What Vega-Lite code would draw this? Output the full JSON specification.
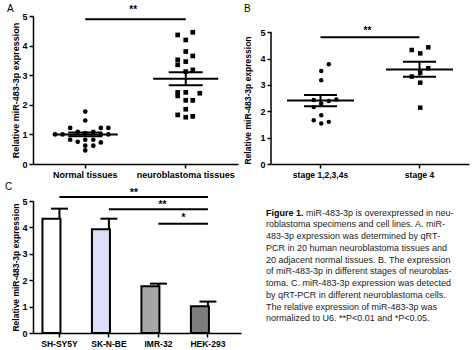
{
  "$schema": "https://vega.github.io/schema/vega-lite/v6.json",
  "autosize": {"type": "none"},
  "padding": {"left": 33, "top": 16, "right": 441, "bottom": 334},
  "bounds": "flush",
  "columns": 2,
  "spacing": {"row": 37, "column": 30},
  "config": {
    "view": {"stroke": null},
    "font": "Liberation Sans",
    "axis": {
      "domainColor": "black", "domainWidth": 1.5, "tickColor": "black", "tickWidth": 1.5, "tickSize": 4,
      "labelColor": "black", "labelFont": "Liberation Sans", "labelFontWeight": "bold", "labelFontSize": 9,
      "titleColor": "black", "titleFont": "Liberation Sans", "titleFontWeight": "bold", "titleFontSize": 9,
      "grid": false, "labelFlush": false, "labelOverlap": false
    },
    "title": {"font": "Liberation Sans", "fontSize": 10, "fontWeight": "normal", "anchor": "start", "frame": "group", "color": "black"}
  },
  "concat": [
    {
      "width": 205, "height": 148,
      "title": {"text": "A", "dx": -26, "offset": -9},
      "layer": [
        {
          "data": {"values": [
            {"group": "Normal tissues", "offset": 0, "value": 1.77},
            {"group": "Normal tissues", "offset": 0, "value": 1.47},
            {"group": "Normal tissues", "offset": -0.15, "value": 1.22},
            {"group": "Normal tissues", "offset": 0.155, "value": 1.22},
            {"group": "Normal tissues", "offset": 0.23, "value": 1.22},
            {"group": "Normal tissues", "offset": -0.3, "value": 1.0},
            {"group": "Normal tissues", "offset": -0.225, "value": 1.0},
            {"group": "Normal tissues", "offset": -0.075, "value": 1.09},
            {"group": "Normal tissues", "offset": 0, "value": 1.04},
            {"group": "Normal tissues", "offset": 0.08, "value": 1.09},
            {"group": "Normal tissues", "offset": 0.155, "value": 1.0},
            {"group": "Normal tissues", "offset": 0.23, "value": 1.0},
            {"group": "Normal tissues", "offset": -0.15, "value": 0.82},
            {"group": "Normal tissues", "offset": -0.075, "value": 0.75},
            {"group": "Normal tissues", "offset": 0, "value": 0.82},
            {"group": "Normal tissues", "offset": 0.08, "value": 0.82},
            {"group": "Normal tissues", "offset": 0.155, "value": 0.73},
            {"group": "Normal tissues", "offset": 0, "value": 0.62},
            {"group": "Normal tissues", "offset": 0.08, "value": 0.62},
            {"group": "Normal tissues", "offset": 0, "value": 0.46},
            {"group": "neuroblastoma tissues", "offset": -0.08, "value": 4.36},
            {"group": "neuroblastoma tissues", "offset": 0, "value": 4.19},
            {"group": "neuroblastoma tissues", "offset": 0.07, "value": 4.45},
            {"group": "neuroblastoma tissues", "offset": 0, "value": 3.8},
            {"group": "neuroblastoma tissues", "offset": 0.07, "value": 3.65},
            {"group": "neuroblastoma tissues", "offset": -0.08, "value": 3.52},
            {"group": "neuroblastoma tissues", "offset": 0, "value": 3.46},
            {"group": "neuroblastoma tissues", "offset": -0.08, "value": 3.35},
            {"group": "neuroblastoma tissues", "offset": 0.07, "value": 3.18},
            {"group": "neuroblastoma tissues", "offset": 0, "value": 3.12},
            {"group": "neuroblastoma tissues", "offset": -0.08, "value": 2.42},
            {"group": "neuroblastoma tissues", "offset": 0, "value": 2.42},
            {"group": "neuroblastoma tissues", "offset": 0.14, "value": 2.39},
            {"group": "neuroblastoma tissues", "offset": -0.08, "value": 2.3},
            {"group": "neuroblastoma tissues", "offset": 0, "value": 2.15},
            {"group": "neuroblastoma tissues", "offset": 0.07, "value": 2.15},
            {"group": "neuroblastoma tissues", "offset": 0, "value": 1.85},
            {"group": "neuroblastoma tissues", "offset": -0.08, "value": 1.66},
            {"group": "neuroblastoma tissues", "offset": 0, "value": 1.58},
            {"group": "neuroblastoma tissues", "offset": 0.07, "value": 1.61}
          ]},
          "mark": {"type": "point", "filled": true, "opacity": 1, "color": "black", "size": 22},
          "encoding": {
            "x": {"field": "group", "type": "nominal", "scale": {"type": "band", "domain": ["Normal tissues", "neuroblastoma tissues"], "paddingInner": 0, "paddingOuter": 0.02}, "axis": {"title": null, "labelAngle": 0, "labelPadding": 2}},
            "xOffset": {"field": "offset", "type": "quantitative", "scale": {"domain": [-0.5, 0.5]}},
            "y": {"field": "value", "type": "quantitative", "scale": {"domain": [0, 5], "nice": false}, "axis": {"title": "Relative miR-483-3p expression", "values": [0, 1, 2, 3, 4, 5], "tickCount": 6, "labelOverlap": false, "titlePadding": 1, "labelPadding": 2}},
            "shape": {"field": "group", "type": "nominal", "scale": {"domain": ["Normal tissues", "neuroblastoma tissues"], "range": ["circle", "square"]}, "legend": null}
          }
        },
        {
          "data": {"values": [
            {"group": "Normal tissues", "mean": 1.0, "lo": 0.94, "hi": 1.06},
            {"group": "neuroblastoma tissues", "mean": 2.88, "lo": 2.66, "hi": 3.1}
          ]},
          "layer": [
            {"mark": {"type": "tick", "orient": "horizontal", "size": 65, "thickness": 2, "color": "black", "opacity": 1},
             "encoding": {"x": {"field": "group", "type": "nominal"}, "y": {"field": "mean", "type": "quantitative"}}},
            {"mark": {"type": "tick", "orient": "horizontal", "size": 34, "thickness": 2, "color": "black", "opacity": 1},
             "encoding": {"x": {"field": "group", "type": "nominal"}, "y": {"field": "hi", "type": "quantitative"}}},
            {"mark": {"type": "tick", "orient": "horizontal", "size": 34, "thickness": 2, "color": "black", "opacity": 1},
             "encoding": {"x": {"field": "group", "type": "nominal"}, "y": {"field": "lo", "type": "quantitative"}}},
            {"mark": {"type": "rule", "strokeWidth": 2, "color": "black"},
             "encoding": {"x": {"field": "group", "type": "nominal"}, "y": {"field": "lo", "type": "quantitative"}, "y2": {"field": "hi"}}}
          ]
        },
        {
          "data": {"values": [{"from": "Normal tissues", "to": "neuroblastoma tissues", "y": 4.89, "ty": 5.1, "label": "**"}]},
          "layer": [
            {"mark": {"type": "rule", "strokeWidth": 2, "color": "black"},
             "encoding": {"x": {"field": "from", "type": "nominal"}, "x2": {"field": "to"}, "y": {"field": "y", "type": "quantitative"}}},
            {"mark": {"type": "text", "fontSize": 10, "fontWeight": "bold", "baseline": "alphabetic", "dx": 48, "color": "black"},
             "encoding": {"x": {"field": "from", "type": "nominal"}, "y": {"field": "ty", "type": "quantitative"}, "text": {"field": "label"}}}
          ]
        }
      ]
    },
    {
      "width": 198, "height": 148,
      "title": {"text": "B", "dx": -27, "offset": 2},
      "layer": [
        {
          "data": {"values": [
            {"group": "stage 1,2,3,4s", "offset": 0.075, "value": 3.79},
            {"group": "stage 1,2,3,4s", "offset": 0, "value": 3.53},
            {"group": "stage 1,2,3,4s", "offset": 0, "value": 3.18},
            {"group": "stage 1,2,3,4s", "offset": -0.075, "value": 2.43},
            {"group": "stage 1,2,3,4s", "offset": 0.075, "value": 2.39},
            {"group": "stage 1,2,3,4s", "offset": 0.15, "value": 2.45},
            {"group": "stage 1,2,3,4s", "offset": 0, "value": 2.29},
            {"group": "stage 1,2,3,4s", "offset": -0.075, "value": 2.16},
            {"group": "stage 1,2,3,4s", "offset": 0, "value": 1.85},
            {"group": "stage 1,2,3,4s", "offset": -0.075, "value": 1.66},
            {"group": "stage 1,2,3,4s", "offset": 0, "value": 1.54},
            {"group": "stage 1,2,3,4s", "offset": 0.075, "value": 1.6},
            {"group": "stage 4", "offset": -0.085, "value": 4.33},
            {"group": "stage 4", "offset": 0, "value": 4.2},
            {"group": "stage 4", "offset": 0.08, "value": 4.43},
            {"group": "stage 4", "offset": 0.08, "value": 3.64},
            {"group": "stage 4", "offset": 0, "value": 3.47},
            {"group": "stage 4", "offset": -0.085, "value": 3.32},
            {"group": "stage 4", "offset": 0, "value": 3.09},
            {"group": "stage 4", "offset": 0, "value": 2.14}
          ]},
          "mark": {"type": "point", "filled": true, "opacity": 1, "color": "black", "size": 20},
          "encoding": {
            "x": {"field": "group", "type": "nominal", "scale": {"type": "band", "domain": ["stage 1,2,3,4s", "stage 4"], "paddingInner": 0, "paddingOuter": 0}, "axis": {"title": null, "labelAngle": 0, "labelPadding": 2, "labelFontSize": 8.5}},
            "xOffset": {"field": "offset", "type": "quantitative", "scale": {"domain": [-0.5, 0.5]}},
            "y": {"field": "value", "type": "quantitative", "scale": {"domain": [0, 5.62], "nice": false}, "axis": {"title": "Relative miR-483-3p expression", "titleFontSize": 8.5, "titleAnchor": "start", "values": [0, 1, 2, 3, 4, 5], "tickCount": 6, "labelOverlap": false, "titlePadding": 7, "labelPadding": 2, "domain": false}},
            "shape": {"field": "group", "type": "nominal", "scale": {"domain": ["stage 1,2,3,4s", "stage 4"], "range": ["circle", "square"]}, "legend": null}
          }
        },
        {
          "data": {"values": [{"axisAt": "stage 1,2,3,4s", "edge": -0.5, "from": 0, "to": 5}]},
          "mark": {"type": "rule", "strokeWidth": 1.5, "color": "black"},
          "encoding": {
            "x": {"field": "axisAt", "type": "nominal"},
            "xOffset": {"field": "edge", "type": "quantitative"},
            "y": {"field": "from", "type": "quantitative"},
            "y2": {"field": "to"}
          }
        },
        {
          "data": {"values": [
            {"group": "stage 1,2,3,4s", "mean": 2.41, "lo": 2.19, "hi": 2.62},
            {"group": "stage 4", "mean": 3.59, "lo": 3.31, "hi": 3.88}
          ]},
          "layer": [
            {"mark": {"type": "tick", "orient": "horizontal", "size": 67, "thickness": 2, "color": "black", "opacity": 1},
             "encoding": {"x": {"field": "group", "type": "nominal"}, "y": {"field": "mean", "type": "quantitative"}}},
            {"mark": {"type": "tick", "orient": "horizontal", "size": 33, "thickness": 2, "color": "black", "opacity": 1},
             "encoding": {"x": {"field": "group", "type": "nominal"}, "y": {"field": "hi", "type": "quantitative"}}},
            {"mark": {"type": "tick", "orient": "horizontal", "size": 33, "thickness": 2, "color": "black", "opacity": 1},
             "encoding": {"x": {"field": "group", "type": "nominal"}, "y": {"field": "lo", "type": "quantitative"}}},
            {"mark": {"type": "rule", "strokeWidth": 2, "color": "black"},
             "encoding": {"x": {"field": "group", "type": "nominal"}, "y": {"field": "lo", "type": "quantitative"}, "y2": {"field": "hi"}}}
          ]
        },
        {
          "data": {"values": [{"from": "stage 1,2,3,4s", "to": "stage 4", "y": 4.81, "ty": 4.92, "label": "**"}]},
          "layer": [
            {"mark": {"type": "rule", "strokeWidth": 2, "color": "black"},
             "encoding": {"x": {"field": "from", "type": "nominal"}, "x2": {"field": "to"}, "y": {"field": "y", "type": "quantitative"}}},
            {"mark": {"type": "text", "fontSize": 10, "fontWeight": "bold", "baseline": "alphabetic", "dx": 47, "color": "black"},
             "encoding": {"x": {"field": "from", "type": "nominal"}, "y": {"field": "ty", "type": "quantitative"}, "text": {"field": "label"}}}
          ]
        }
      ]
    },
    {
      "width": 208, "height": 132,
      "title": {"text": "C", "dx": -28, "offset": -4},
      "layer": [
        {
          "data": {"values": [
            {"cell": "SH-SY5Y", "mean": 4.33, "hi": 4.71},
            {"cell": "SK-N-BE", "mean": 3.93, "hi": 4.33},
            {"cell": "IMR-32", "mean": 1.77, "hi": 1.87},
            {"cell": "HEK-293", "mean": 1.01, "hi": 1.19}
          ]},
          "layer": [
            {"mark": {"type": "rule", "strokeWidth": 2, "color": "black"},
             "encoding": {"x": {"field": "cell", "type": "nominal", "scale": {"type": "band", "domain": ["SH-SY5Y", "SK-N-BE", "IMR-32", "HEK-293"], "paddingInner": 0.313, "paddingOuter": 0.258, "align": 0.37}, "axis": {"title": null, "labelAngle": 0, "labelPadding": 2, "labelFontSize": 8.5}}, "y": {"field": "mean", "type": "quantitative", "scale": {"domain": [0, 5], "nice": false}, "axis": {"title": "Relative miR-483-3p expression", "titleFontSize": 8.5, "values": [0, 1, 2, 3, 4, 5], "tickCount": 6, "labelOverlap": false, "titlePadding": 1, "labelPadding": 2}}, "y2": {"field": "hi"}}},
            {"mark": {"type": "tick", "orient": "horizontal", "size": 17, "thickness": 2, "color": "black", "opacity": 1},
             "encoding": {"x": {"field": "cell", "type": "nominal"}, "y": {"field": "hi", "type": "quantitative"}}},
            {"mark": {"type": "bar", "stroke": "black", "strokeWidth": 2, "opacity": 1},
             "encoding": {
               "x": {"field": "cell", "type": "nominal"},
               "y": {"field": "mean", "type": "quantitative"},
               "fill": {"field": "cell", "type": "nominal", "scale": {"domain": ["SH-SY5Y", "SK-N-BE", "IMR-32", "HEK-293"], "range": ["#ffffff", "#dedff9", "#a7a7a7", "#7e7e7e"]}, "legend": null}
             }}
          ]
        },
        {
          "data": {"values": [
            {"from": "SH-SY5Y", "to": "HEK-293", "y": 5.15},
            {"from": "SK-N-BE", "to": "HEK-293", "y": 4.69},
            {"from": "IMR-32", "to": "HEK-293", "y": 4.14}
          ]},
          "mark": {"type": "rule", "strokeWidth": 2, "color": "black"},
          "encoding": {"x": {"field": "from", "type": "nominal"}, "x2": {"field": "to"}, "y": {"field": "y", "type": "quantitative"}}
        },
        {
          "data": {"values": [
            {"at": "SK-N-BE", "ty": 5.2, "label": "**"},
            {"at": "IMR-32", "ty": 4.23, "label": "*"}
          ]},
          "mark": {"type": "text", "fontSize": 10, "fontWeight": "bold", "baseline": "alphabetic", "dx": 25, "color": "black"},
          "encoding": {"x": {"field": "at", "type": "nominal"}, "y": {"field": "ty", "type": "quantitative"}, "text": {"field": "label"}}
        },
        {
          "data": {"values": [{"at": "IMR-32", "ty": 4.72, "label": "**"}]},
          "mark": {"type": "text", "fontSize": 10, "fontWeight": "bold", "baseline": "alphabetic", "dx": 4, "color": "black"},
          "encoding": {"x": {"field": "at", "type": "nominal"}, "y": {"field": "ty", "type": "quantitative"}, "text": {"field": "label"}}
        }
      ]
    },
    {
      "width": 204, "height": 129,
      "data": {"values": [
        {"line": 1, "lead": "Figure 1.", "text": "miR-483-3p is overexpressed in neu-"},
        {"line": 2, "lead": "", "text": "roblastoma specimens and cell lines. A. miR-"},
        {"line": 3, "lead": "", "text": "483-3p expression was determined by qRT-"},
        {"line": 4, "lead": "", "text": "PCR in 20 human neuroblastoma tissues and"},
        {"line": 5, "lead": "", "text": "20 adjacent normal tissues. B. The expression"},
        {"line": 6, "lead": "", "text": "of miR-483-3p in different stages of neuroblas-"},
        {"line": 7, "lead": "", "text": "toma. C. miR-483-3p expression was detected"},
        {"line": 8, "lead": "", "text": "by qRT-PCR in different neuroblastoma cells."},
        {"line": 9, "lead": "", "text": "The relative expression of miR-483-3p was"},
        {"line": 10, "lead": "", "text": "normalized to U6. **P<0.01 and *P<0.05."}
      ]},
      "encoding": {
        "x": {"datum": 0, "type": "quantitative", "scale": {"domain": [0, 1]}, "axis": null},
        "y": {"field": "line", "type": "ordinal", "scale": {"type": "point", "padding": 1.48}, "axis": null}
      },
      "layer": [
        {"transform": [{"filter": "datum.line == 1"}],
         "mark": {"type": "text", "align": "left", "baseline": "middle", "fontSize": 9, "fontWeight": "bold", "dx": -5, "color": "black"},
         "encoding": {"text": {"field": "lead"}}},
        {"transform": [{"filter": "datum.line == 1"}],
         "mark": {"type": "text", "align": "left", "baseline": "middle", "fontSize": 9, "dx": 35, "color": "#222222"},
         "encoding": {"text": {"field": "text"}}},
        {"transform": [{"filter": "datum.line > 1"}],
         "mark": {"type": "text", "align": "left", "baseline": "middle", "fontSize": 9, "dx": -5, "color": "#222222"},
         "encoding": {"text": {"field": "text"}}}
      ]
    }
  ]
}
